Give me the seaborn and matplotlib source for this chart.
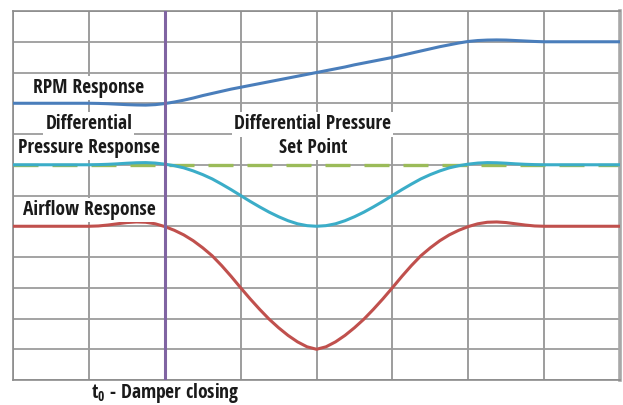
import seaborn as sns
import matplotlib.pyplot as plt
from matplotlib import font_manager

# time axis (grid columns) and the three responses
t = [0, 0.5, 1, 1.125, 1.25, 1.375, 1.5, 1.625, 1.75, 1.875,
     2, 2.125, 2.25, 2.375, 2.5, 2.625, 2.75, 2.875,
     3, 3.125, 3.25, 3.375, 3.5, 3.625, 3.75, 3.875,
     4, 4.125, 4.25, 4.375, 4.5, 4.625, 4.75, 4.875,
     5, 5.125, 5.25, 5.375, 5.5, 5.625, 5.75, 5.875,
     6, 6.125, 6.25, 6.375, 6.5, 6.625, 6.75, 6.875,
     7, 7.5, 8]

rpm = [9.0, 9.0, 9.0, 8.995, 8.985, 8.97, 8.955, 8.945, 8.94, 8.955,
       8.99, 9.04, 9.1, 9.17, 9.25, 9.32, 9.39, 9.46,
       9.52, 9.58, 9.64, 9.7, 9.76, 9.82, 9.88, 9.94,
       10.0, 10.06, 10.12, 10.18, 10.25, 10.31, 10.37, 10.43,
       10.49, 10.56, 10.63, 10.7, 10.77, 10.84, 10.9, 10.96,
       11.01, 11.04, 11.055, 11.06, 11.055, 11.04, 11.025, 11.01,
       11.0, 11.0, 11.0]

dp = [7.0, 7.0, 7.0, 7.005, 7.015, 7.03, 7.05, 7.065, 7.07, 7.055,
      7.02, 6.97, 6.9, 6.8, 6.68, 6.54, 6.37, 6.19,
      6.0, 5.81, 5.63, 5.46, 5.31, 5.18, 5.08, 5.02,
      5.0, 5.02, 5.08, 5.18, 5.31, 5.46, 5.63, 5.81,
      6.0, 6.19, 6.37, 6.54, 6.68, 6.8, 6.9, 6.97,
      7.02, 7.055, 7.07, 7.065, 7.05, 7.03, 7.015, 7.005,
      7.0, 7.0, 7.0]

airflow = [5.0, 5.0, 5.0, 5.01, 5.04, 5.08, 5.12, 5.14, 5.13, 5.08,
           4.99, 4.87, 4.72, 4.53, 4.3, 4.04, 3.72, 3.37,
           3.0, 2.64, 2.3, 1.98, 1.7, 1.45, 1.24, 1.08,
           1.0, 1.08, 1.24, 1.45, 1.7, 1.98, 2.3, 2.64,
           3.0, 3.37, 3.72, 4.04, 4.3, 4.53, 4.72, 4.87,
           4.99, 5.08, 5.13, 5.14, 5.12, 5.08, 5.04, 5.01,
           5.0, 5.0, 5.0]

setpoint_t = [0, 8]
setpoint = [7.0, 7.0]
damper_t = 2

# pick a narrow bold face if one is installed
names = {f.name for f in font_manager.fontManager.ttflist}
font, size, stretch = "Liberation Sans", 11.5, "normal"
for cand in ["Liberation Sans Narrow", "DejaVu Sans Condensed", "Open Sans Condensed",
             "Roboto Condensed", "Noto Sans Condensed"]:
    if cand in names:
        font, size = cand, 14
        break
else:
    if any(f.name == "DejaVu Sans" and f.stretch == "condensed"
           for f in font_manager.fontManager.ttflist):
        font, size, stretch = "DejaVu Sans", 12.5, "condensed"

sns.set_style("white")
plt.rcParams["font.family"] = [font, "DejaVu Sans"]
plt.rcParams["mathtext.fontset"] = "custom"
plt.rcParams["mathtext.rm"] = font + ":bold"
plt.rcParams["mathtext.bf"] = font + ":bold"

fig = plt.figure(figsize=(6.23, 4.05), dpi=100)
ax = fig.add_axes([0.0209, 0.0617, 0.9743, 0.9111])

# grid
for gx in range(9):
    ax.axvline(gx, color="#8c8c8c", lw=1.2, zorder=0)
for gy in range(13):
    ax.axhline(gy, color="#9c9c9c", lw=1.3, zorder=0)

sns.lineplot(x=setpoint_t, y=setpoint, ax=ax, color="#9BBB59", lw=2.4,
             zorder=2).lines[-1].set_dashes((7.5, 4.2))
sns.lineplot(x=t, y=rpm, ax=ax, color="#4A7EBB", lw=2.2, zorder=3)
sns.lineplot(x=t, y=dp, ax=ax, color="#3BADC8", lw=2.2, zorder=3)
sns.lineplot(x=t, y=airflow, ax=ax, color="#C0504D", lw=2.2, zorder=3)
ax.axvline(damper_t, color="#8064A2", lw=2.2, zorder=4)

ax.set_xlim(0, 8)
ax.set_ylim(0, 12)
ax.set_xticks([])
ax.set_yticks([])
ax.set_xlabel("")
ax.set_ylabel("")
for side in ["top", "left", "bottom"]:
    ax.spines[side].set_color("#8c8c8c")
    ax.spines[side].set_linewidth(1.2)
ax.spines["right"].set_color("#a8a8a8")
ax.spines["right"].set_linewidth(2.6)

box = dict(facecolor="white", edgecolor="none", pad=1.5)
txt = dict(fontsize=size, fontweight="bold", fontstretch=stretch, color="#1a1a1a",
           ha="center", va="center", bbox=box, zorder=5)
ax.text(1.0, 9.5, "RPM Response", **txt)
ax.text(1.0, 8.31, "Differential", **txt)
ax.text(1.0, 7.56, "Pressure Response", **txt)
ax.text(3.95, 8.31, "Differential Pressure", **txt)
ax.text(3.95, 7.56, "Set Point", **txt)
ax.text(1.0, 5.54, "Airflow Response", **txt)
ax.text(2.0, -0.41, r"t$_{0}$ - Damper closing", fontsize=size, fontweight="bold",
        fontstretch=stretch, color="#1a1a1a", ha="center", va="center", clip_on=False)

fig.savefig("out.png", dpi=100)
